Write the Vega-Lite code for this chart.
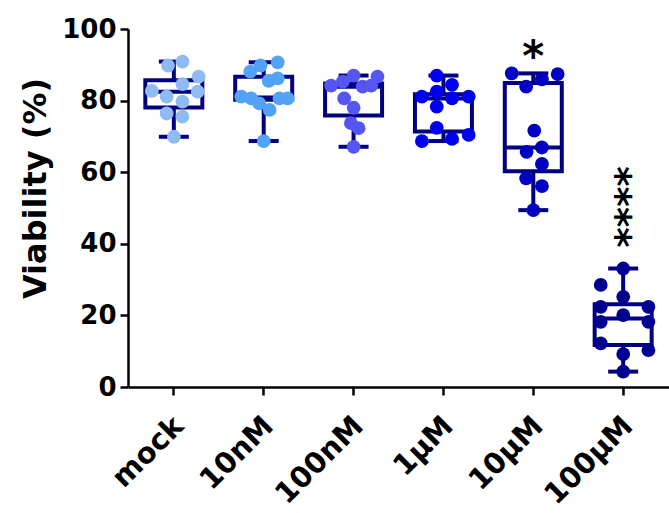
{
  "$schema": "https://vega.github.io/schema/vega-lite/v6.json",
  "width": 541,
  "height": 358,
  "autosize": {"type": "none"},
  "padding": {"left": 128, "top": 29, "right": 0, "bottom": 126},
  "config": {
    "view": {"stroke": null},
    "font": "DejaVu Sans",
    "axis": {
      "grid": false,
      "domainColor": "black",
      "domainWidth": 2.5,
      "tickColor": "black",
      "tickWidth": 2.5,
      "tickSize": 8,
      "labelFont": "DejaVu Sans",
      "labelFontWeight": "bold",
      "labelColor": "black",
      "titleFont": "DejaVu Sans",
      "titleColor": "black"
    }
  },
  "datasets": {
    "pts": [
      {"group": "mock", "viability": 89.8, "jitter": -0.13},
      {"group": "mock", "viability": 90.9, "jitter": 0.19},
      {"group": "mock", "viability": 86.7, "jitter": 0.55},
      {"group": "mock", "viability": 84.6, "jitter": 0.19},
      {"group": "mock", "viability": 82.7, "jitter": -0.49},
      {"group": "mock", "viability": 82.5, "jitter": 0.53},
      {"group": "mock", "viability": 81.1, "jitter": -0.16},
      {"group": "mock", "viability": 79.7, "jitter": 0.19},
      {"group": "mock", "viability": 76.4, "jitter": -0.16},
      {"group": "mock", "viability": 75.5, "jitter": 0.19},
      {"group": "mock", "viability": 69.9, "jitter": 0},
      {"group": "10nM", "viability": 88.1, "jitter": -0.30},
      {"group": "10nM", "viability": 89.8, "jitter": -0.07},
      {"group": "10nM", "viability": 90.7, "jitter": 0.31},
      {"group": "10nM", "viability": 85.5, "jitter": 0.11},
      {"group": "10nM", "viability": 86.2, "jitter": 0.31},
      {"group": "10nM", "viability": 81.1, "jitter": -0.50},
      {"group": "10nM", "viability": 80.6, "jitter": -0.28},
      {"group": "10nM", "viability": 79.2, "jitter": -0.10},
      {"group": "10nM", "viability": 77.4, "jitter": 0.13},
      {"group": "10nM", "viability": 80.6, "jitter": 0.35},
      {"group": "10nM", "viability": 80.6, "jitter": 0.53},
      {"group": "10nM", "viability": 68.7, "jitter": 0},
      {"group": "100nM", "viability": 84.2, "jitter": -0.50},
      {"group": "100nM", "viability": 85.3, "jitter": -0.24},
      {"group": "100nM", "viability": 87.0, "jitter": 0},
      {"group": "100nM", "viability": 83.9, "jitter": 0.20},
      {"group": "100nM", "viability": 84.2, "jitter": 0.39},
      {"group": "100nM", "viability": 86.7, "jitter": 0.53},
      {"group": "100nM", "viability": 80.6, "jitter": -0.21},
      {"group": "100nM", "viability": 78.0, "jitter": 0},
      {"group": "100nM", "viability": 73.7, "jitter": -0.06},
      {"group": "100nM", "viability": 72.3, "jitter": 0.11},
      {"group": "100nM", "viability": 67.1, "jitter": 0},
      {"group": "1µM", "viability": 87.0, "jitter": -0.15},
      {"group": "1µM", "viability": 84.4, "jitter": 0.19},
      {"group": "1µM", "viability": 81.1, "jitter": -0.48},
      {"group": "1µM", "viability": 82.5, "jitter": -0.15},
      {"group": "1µM", "viability": 80.6, "jitter": 0.19},
      {"group": "1µM", "viability": 81.1, "jitter": 0.56},
      {"group": "1µM", "viability": 78.3, "jitter": -0.15},
      {"group": "1µM", "viability": 72.4, "jitter": -0.15},
      {"group": "1µM", "viability": 68.7, "jitter": -0.48},
      {"group": "1µM", "viability": 69.3, "jitter": 0.19},
      {"group": "1µM", "viability": 70.4, "jitter": 0.56},
      {"group": "10µM", "viability": 87.6, "jitter": -0.48},
      {"group": "10µM", "viability": 83.9, "jitter": -0.16},
      {"group": "10µM", "viability": 85.9, "jitter": 0.19},
      {"group": "10µM", "viability": 87.4, "jitter": 0.54},
      {"group": "10µM", "viability": 71.6, "jitter": 0.02},
      {"group": "10µM", "viability": 65.7, "jitter": -0.15},
      {"group": "10µM", "viability": 66.9, "jitter": 0.19},
      {"group": "10µM", "viability": 62.3, "jitter": 0.19},
      {"group": "10µM", "viability": 58.3, "jitter": -0.16},
      {"group": "10µM", "viability": 56.1, "jitter": 0.19},
      {"group": "10µM", "viability": 49.4, "jitter": 0},
      {"group": "100µM", "viability": 33.1, "jitter": 0},
      {"group": "100µM", "viability": 28.5, "jitter": -0.50},
      {"group": "100µM", "viability": 25.2, "jitter": 0},
      {"group": "100µM", "viability": 22.4, "jitter": -0.50},
      {"group": "100µM", "viability": 22.4, "jitter": 0.56},
      {"group": "100µM", "viability": 20.1, "jitter": 0},
      {"group": "100µM", "viability": 18.2, "jitter": -0.50},
      {"group": "100µM", "viability": 18.2, "jitter": 0.56},
      {"group": "100µM", "viability": 12.2, "jitter": -0.50},
      {"group": "100µM", "viability": 10.3, "jitter": 0.56},
      {"group": "100µM", "viability": 9.2, "jitter": 0},
      {"group": "100µM", "viability": 4.3, "jitter": 0}
    ],
    "ann": [
      {"group": "10µM", "viability": 94.7, "label": "*"},
      {"group": "100µM", "viability": 50.3, "label": "****"}
    ]
  },
  "layer": [
    {
      "data": {"name": "pts"},
      "mark": {
        "type": "boxplot",
        "extent": "min-max",
        "size": 57,
        "box": {"fill": "white", "stroke": "#000080", "strokeWidth": 4, "opacity": 1},
        "median": {"color": "#000080", "thickness": 4, "size": 57, "opacity": 1},
        "rule": {"color": "#000080", "strokeWidth": 4, "opacity": 1},
        "ticks": {"color": "#000080", "thickness": 4, "size": 30, "opacity": 1}
      },
      "encoding": {
        "x": {
          "field": "group", "type": "nominal",
          "sort": ["mock", "10nM", "100nM", "1µM", "10µM", "100µM"],
          "scale": {"paddingInner": 0, "paddingOuter": 0.01},
          "axis": {"title": null, "labelAngle": -45, "labelFontSize": 29, "labelPadding": 16, "labelOffset": -5}
        },
        "y": {
          "field": "viability", "type": "quantitative",
          "scale": {"domain": [0, 100], "nice": false},
          "title": "Viability (%)",
          "axis": {"values": [0, 20, 40, 60, 80, 100], "labelFontSize": 26, "labelPadding": 4, "titleFontSize": 32, "titleFontWeight": "bold", "titlePadding": 9, "titleY": 159}
        }
      }
    },
    {
      "data": {"name": "pts"},
      "mark": {"type": "circle", "size": 190, "opacity": 1},
      "encoding": {
        "x": {"field": "group", "type": "nominal", "sort": ["mock", "10nM", "100nM", "1µM", "10µM", "100µM"]},
        "xOffset": {"field": "jitter", "type": "quantitative", "scale": {"domain": [-1, 1], "range": [0, 90]}},
        "y": {"field": "viability", "type": "quantitative", "title": "Viability (%)"},
        "color": {
          "field": "group", "type": "nominal",
          "scale": {"domain": ["mock", "10nM", "100nM", "1µM", "10µM", "100µM"], "range": ["#8FBBF3", "#52A2F5", "#5555F2", "#0000F0", "#0000C4", "#000090"]},
          "legend": null
        }
      }
    },
    {
      "data": {"name": "ann"},
      "transform": [{"filter": "datum.label == '*'"}],
      "mark": {"type": "text", "fontSize": 42, "fontWeight": "bold", "baseline": "middle", "dy": 10, "color": "black"},
      "encoding": {
        "x": {"field": "group", "type": "nominal", "sort": ["mock", "10nM", "100nM", "1µM", "10µM", "100µM"]},
        "y": {"field": "viability", "type": "quantitative", "title": "Viability (%)"},
        "text": {"field": "label"}
      }
    },
    {
      "data": {"name": "ann"},
      "transform": [{"filter": "datum.label != '*'"}],
      "mark": {"type": "text", "fontSize": 39, "fontWeight": "bold", "baseline": "middle", "align": "center", "angle": 90, "dy": 8, "color": "black"},
      "encoding": {
        "x": {"field": "group", "type": "nominal", "sort": ["mock", "10nM", "100nM", "1µM", "10µM", "100µM"]},
        "y": {"field": "viability", "type": "quantitative", "title": "Viability (%)"},
        "text": {"field": "label"}
      }
    }
  ]
}
